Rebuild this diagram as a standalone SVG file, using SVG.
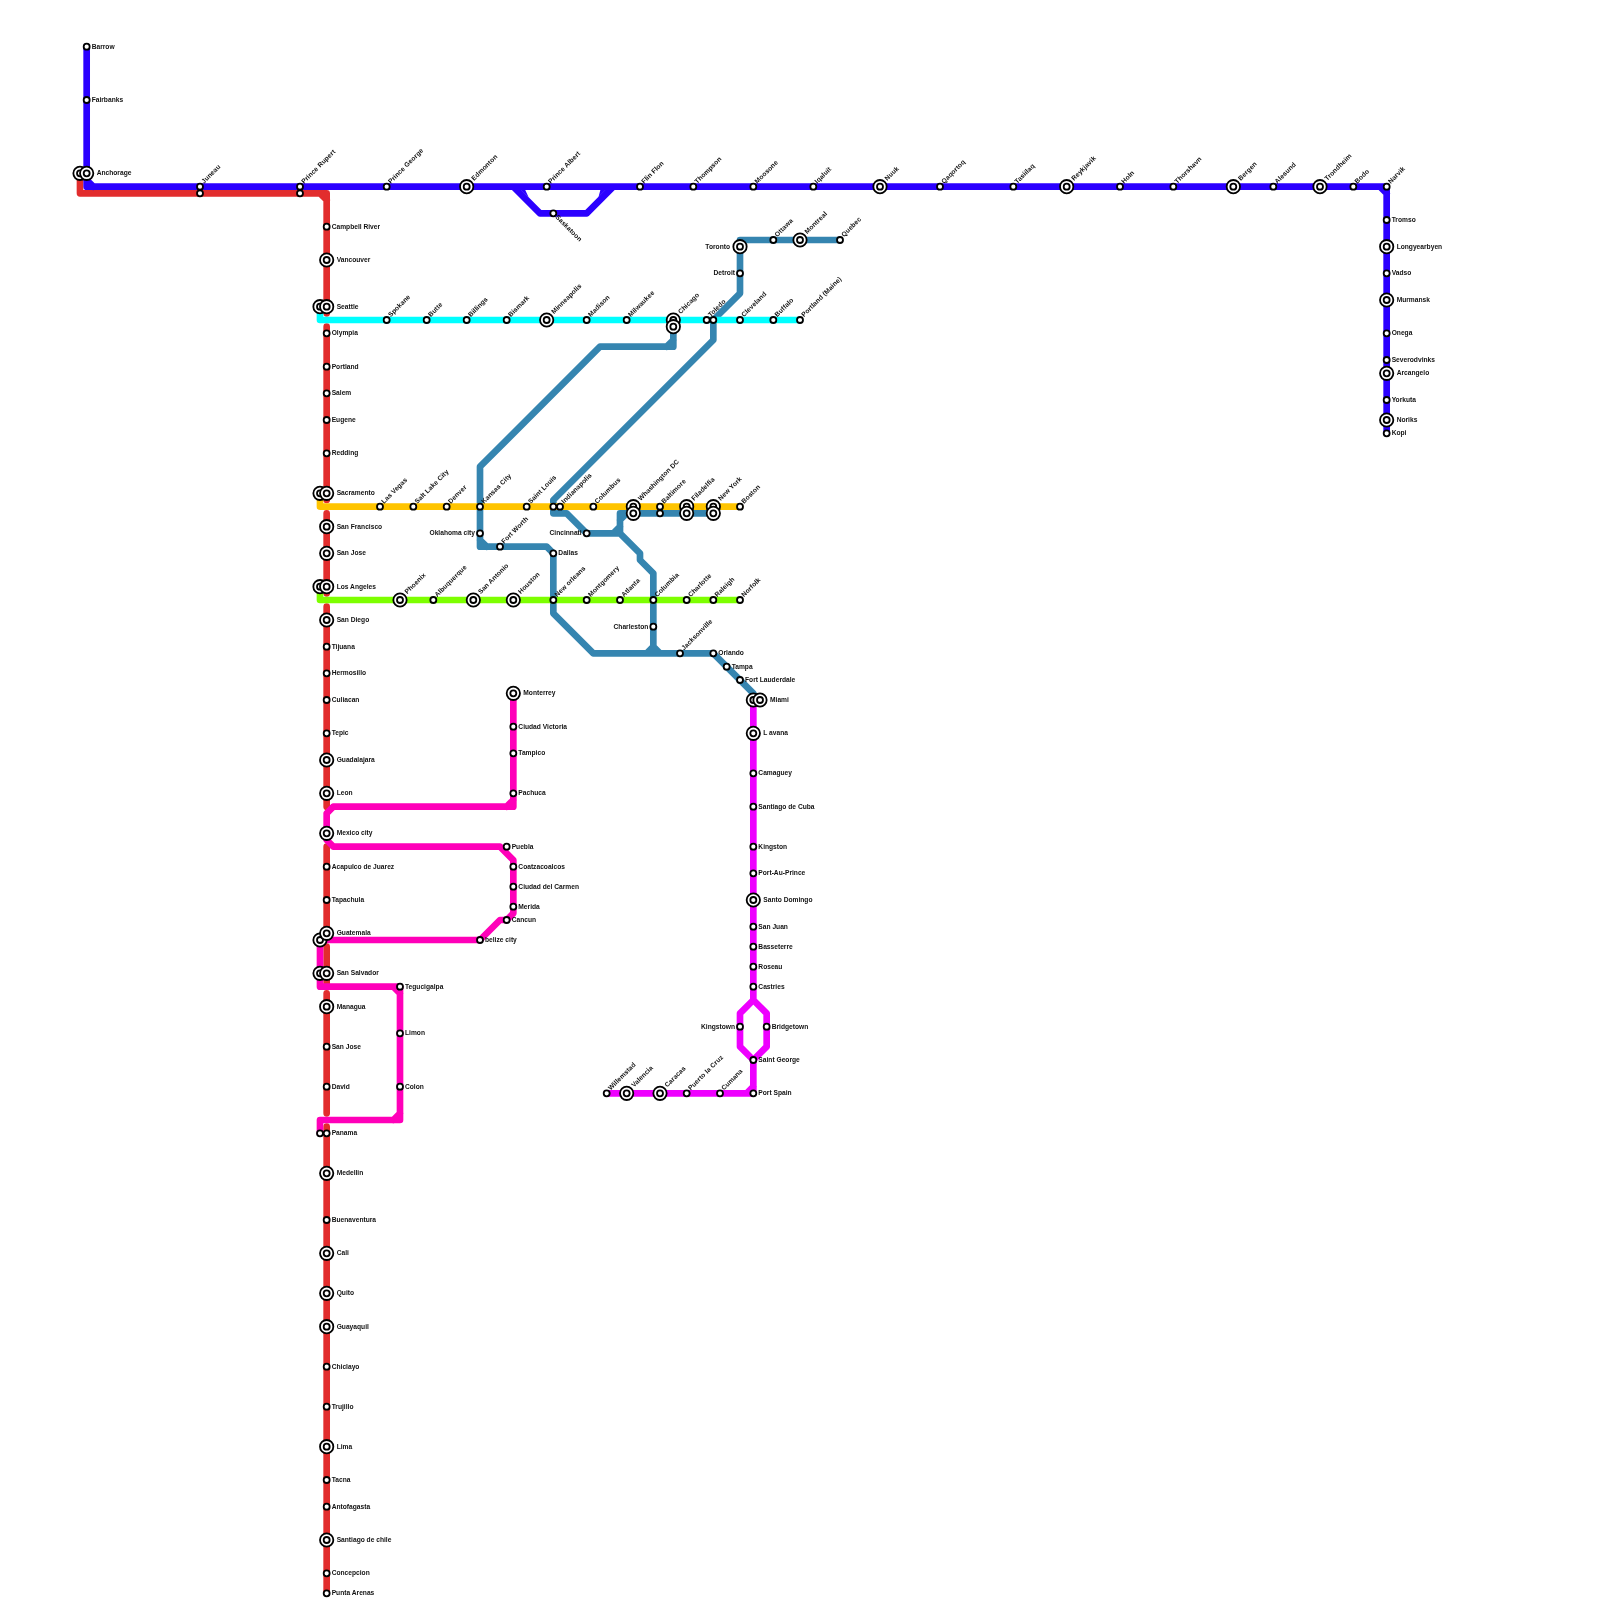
<svg xmlns="http://www.w3.org/2000/svg" width="1600" height="1600" viewBox="0 0 1600 1600">
<style>
.c{fill:none;stroke-width:6.67;stroke-linejoin:round;stroke-linecap:round}
.red{stroke:#e22d2d}.blue{stroke:#2b00ff}.steel{stroke:#3585b0}.cyan{stroke:#00ffff}.orange{stroke:#ffc400}.green{stroke:#7dff00}.pink{stroke:#ff00b9}.mag{stroke:#ee00ff}
.bf{fill:#2b00ff}
text{font-family:"Liberation Sans",Arial,sans-serif;font-weight:700;font-size:6.67px;fill:#111}
text[transform]{letter-spacing:.1px}
.e{text-anchor:end}
.o{fill:#fff;stroke:#000;stroke-width:1.8}
#nodes{opacity:.999}
</style>
<defs>
<circle id="s" class="o" r="3"/>
<g id="i"><circle class="o" r="6.67"/><circle class="o" r="3"/></g>
</defs>
<rect width="1600" height="1600" fill="#fff"/>
<g id="connectors">
<path class="c red" d="M80 173.33V193.33H326.67V313.33M320 193.33L326.67 200M326.67 326.67V500M326.67 513.33V593.33M326.67 606.67V806.67M326.67 846.67V936.67M326.67 946.67V983.33M326.67 993.33V1113.33M326.67 1126.67V1593.33"/>
<path class="c blue" d="M86.67 46.67V186.67H1386.67V433.33M86.67 180L93.33 186.67M1380 186.67L1386.67 193.33M513.33 186.67L540 213.33H586.67L613.33 186.67"/>
<path class="bf" d="M520.5 189.5H525L528.5 197ZM606 189.5H600.5L598.5 197Z"/>
<path class="c steel" d="M840 240H740V293.33L713.33 320V340L553.33 500V513.33H566.67L586.67 533.33H620L640 553.33V560L653.33 573.33V653.33M620 533.33V513.33H713.33M613.33 533.33L620 526.67M620 520L626.67 513.33M673.33 326.67V346.67H600L480 466.67V546.67H546.67L553.33 553.33V613.33L593.33 653.33H713.33L753.33 693.33M666.67 346.67L673.33 340M480 540L486.67 546.67M646.67 653.33L653.33 646.67L660 653.33"/>
<path class="c cyan" d="M320 306.67V320H800"/>
<path class="c orange" d="M320 493.33V506.67H740"/>
<path class="c green" d="M320 586.67V600H740"/>
<path class="c pink" d="M513.33 693.33V806.67H333.33L326.67 813.33V840L333.33 846.67H500L513.33 860V913.33L506.67 920H500L480 940H320V986.67H400V1120H320V1133.33M506.67 806.67L513.33 800M400 993.33L393.33 986.67M400 1113.33L393.33 1120"/>
<path class="c mag" d="M753.33 700V1000L740 1013.33V1046.67L753.33 1060L766.67 1046.67V1013.33L753.33 1000M753.33 1060V1093.33H606.67M746.67 1093.33L753.33 1086.67"/>
</g>
<g id="nodes">
<g id="n-barrow"><use href="#s" x="86.67" y="46.67"/><text x="91.67" y="48.67">Barrow</text></g>
<g id="n-fairbanks"><use href="#s" x="86.67" y="100"/><text x="91.67" y="102">Fairbanks</text></g>
<g id="n-anchorage"><use href="#i" x="80" y="173.33"/><use href="#i" x="86.67" y="173.33"/><text x="96.67" y="175.33">Anchorage</text></g>
<g id="n-juneau"><use href="#s" x="200" y="193.33"/><use href="#s" x="200" y="186.67"/><text transform="translate(204 184) rotate(-45)">Juneau</text></g>
<g id="n-prince-rupert"><use href="#s" x="300" y="193.33"/><use href="#s" x="300" y="186.67"/><text transform="translate(304 184) rotate(-45)">Prince Rupert</text></g>
<g id="n-prince-george"><use href="#s" x="386.67" y="186.67"/><text transform="translate(390.67 184) rotate(-45)">Prince George</text></g>
<g id="n-edmonton"><use href="#i" x="466.67" y="186.67"/><text transform="translate(474 181) rotate(-45)">Edmonton</text></g>
<g id="n-prince-albert"><use href="#s" x="546.67" y="186.67"/><text transform="translate(550.67 184) rotate(-45)">Prince Albert</text></g>
<g id="n-saskatoon"><use href="#s" x="553.33" y="213.33"/><text transform="translate(555 217.5) rotate(45)">Saskatoon</text></g>
<g id="n-flin-flon"><use href="#s" x="640" y="186.67"/><text transform="translate(644 184) rotate(-45)">Flin Flon</text></g>
<g id="n-thompson"><use href="#s" x="693.33" y="186.67"/><text transform="translate(697.33 184) rotate(-45)">Thompson</text></g>
<g id="n-moosone"><use href="#s" x="753.33" y="186.67"/><text transform="translate(757.33 184) rotate(-45)">Moosone</text></g>
<g id="n-iqaluit"><use href="#s" x="813.33" y="186.67"/><text transform="translate(817.33 184) rotate(-45)">Iqaluit</text></g>
<g id="n-nuuk"><use href="#i" x="880" y="186.67"/><text transform="translate(887.33 181) rotate(-45)">Nuuk</text></g>
<g id="n-qaqortoq"><use href="#s" x="940" y="186.67"/><text transform="translate(944 184) rotate(-45)">Qaqortoq</text></g>
<g id="n-tasiilaq"><use href="#s" x="1013.33" y="186.67"/><text transform="translate(1017.33 184) rotate(-45)">Tasiilaq</text></g>
<g id="n-reykjavik"><use href="#i" x="1066.67" y="186.67"/><text transform="translate(1074 181) rotate(-45)">Reykjavik</text></g>
<g id="n-holn"><use href="#s" x="1120" y="186.67"/><text transform="translate(1124 184) rotate(-45)">Holn</text></g>
<g id="n-thorshavn"><use href="#s" x="1173.33" y="186.67"/><text transform="translate(1177.33 184) rotate(-45)">Thorshavn</text></g>
<g id="n-bergen"><use href="#i" x="1233.33" y="186.67"/><text transform="translate(1240.67 181) rotate(-45)">Bergen</text></g>
<g id="n-alesund"><use href="#s" x="1273.33" y="186.67"/><text transform="translate(1277.33 184) rotate(-45)">Alesund</text></g>
<g id="n-trondheim"><use href="#i" x="1320" y="186.67"/><text transform="translate(1327.33 181) rotate(-45)">Trondheim</text></g>
<g id="n-bodo"><use href="#s" x="1353.33" y="186.67"/><text transform="translate(1357.33 184) rotate(-45)">Bodo</text></g>
<g id="n-narvik"><use href="#s" x="1386.67" y="186.67"/><text transform="translate(1390.67 184) rotate(-45)">Narvik</text></g>
<g id="n-tromso"><use href="#s" x="1386.67" y="220"/><text x="1391.67" y="222">Tromso</text></g>
<g id="n-longyearbyen"><use href="#i" x="1386.67" y="246.67"/><text x="1396.67" y="248.67">Longyearbyen</text></g>
<g id="n-vadso"><use href="#s" x="1386.67" y="273.33"/><text x="1391.67" y="275.33">Vadso</text></g>
<g id="n-murmansk"><use href="#i" x="1386.67" y="300"/><text x="1396.67" y="302">Murmansk</text></g>
<g id="n-onega"><use href="#s" x="1386.67" y="333.33"/><text x="1391.67" y="335.33">Onega</text></g>
<g id="n-severodvinks"><use href="#s" x="1386.67" y="360"/><text x="1391.67" y="362">Severodvinks</text></g>
<g id="n-arcangelo"><use href="#i" x="1386.67" y="373.33"/><text x="1396.67" y="375.33">Arcangelo</text></g>
<g id="n-yorkuta"><use href="#s" x="1386.67" y="400"/><text x="1391.67" y="402">Yorkuta</text></g>
<g id="n-noriks"><use href="#i" x="1386.67" y="420"/><text x="1396.67" y="422">Noriks</text></g>
<g id="n-kopi"><use href="#s" x="1386.67" y="433.33"/><text x="1391.67" y="435.33">Kopi</text></g>

<g id="n-campbell-river"><use href="#s" x="326.67" y="226.67"/><text x="331.67" y="228.67">Campbell River</text></g>
<g id="n-vancouver"><use href="#i" x="326.67" y="260"/><text x="336.67" y="262">Vancouver</text></g>
<g id="n-seattle"><use href="#i" x="320" y="306.67"/><use href="#i" x="326.67" y="306.67"/><text x="336.67" y="308.67">Seattle</text></g>
<g id="n-olympia"><use href="#s" x="326.67" y="333.33"/><text x="331.67" y="335.33">Olympia</text></g>
<g id="n-portland"><use href="#s" x="326.67" y="366.67"/><text x="331.67" y="368.67">Portland</text></g>
<g id="n-salem"><use href="#s" x="326.67" y="393.33"/><text x="331.67" y="395.33">Salem</text></g>
<g id="n-eugene"><use href="#s" x="326.67" y="420"/><text x="331.67" y="422">Eugene</text></g>
<g id="n-redding"><use href="#s" x="326.67" y="453.33"/><text x="331.67" y="455.33">Redding</text></g>
<g id="n-sacramento"><use href="#i" x="320" y="493.33"/><use href="#i" x="326.67" y="493.33"/><text x="336.67" y="495.33">Sacramento</text></g>
<g id="n-san-francisco"><use href="#i" x="326.67" y="526.67"/><text x="336.67" y="528.67">San Francisco</text></g>
<g id="n-san-jose-1"><use href="#i" x="326.67" y="553.33"/><text x="336.67" y="555.33">San Jose</text></g>
<g id="n-los-angeles"><use href="#i" x="320" y="586.67"/><use href="#i" x="326.67" y="586.67"/><text x="336.67" y="588.67">Los Angeles</text></g>
<g id="n-san-diego"><use href="#i" x="326.67" y="620"/><text x="336.67" y="622">San Diego</text></g>
<g id="n-tijuana"><use href="#s" x="326.67" y="646.67"/><text x="331.67" y="648.67">Tijuana</text></g>
<g id="n-hermosillo"><use href="#s" x="326.67" y="673.33"/><text x="331.67" y="675.33">Hermosillo</text></g>
<g id="n-culiacan"><use href="#s" x="326.67" y="700"/><text x="331.67" y="702">Culiacan</text></g>
<g id="n-tepic"><use href="#s" x="326.67" y="733.33"/><text x="331.67" y="735.33">Tepic</text></g>
<g id="n-guadalajara"><use href="#i" x="326.67" y="760"/><text x="336.67" y="762">Guadalajara</text></g>
<g id="n-leon"><use href="#i" x="326.67" y="793.33"/><text x="336.67" y="795.33">Leon</text></g>
<g id="n-mexico-city"><use href="#i" x="326.67" y="833.33"/><text x="336.67" y="835.33">Mexico city</text></g>
<g id="n-acapulco"><use href="#s" x="326.67" y="866.67"/><text x="331.67" y="868.67">Acapulco de Juarez</text></g>
<g id="n-tapachula"><use href="#s" x="326.67" y="900"/><text x="331.67" y="902">Tapachula</text></g>
<g id="n-guatemala"><use href="#i" x="320" y="940"/><use href="#i" x="326.67" y="933.33"/><text x="336.67" y="935.33">Guatemala</text></g>
<g id="n-san-salvador"><use href="#i" x="320" y="973.33"/><use href="#i" x="326.67" y="973.33"/><text x="336.67" y="975.33">San Salvador</text></g>
<g id="n-managua"><use href="#i" x="326.67" y="1006.67"/><text x="336.67" y="1008.67">Managua</text></g>
<g id="n-san-jose-2"><use href="#s" x="326.67" y="1046.67"/><text x="331.67" y="1048.67">San Jose</text></g>
<g id="n-david"><use href="#s" x="326.67" y="1086.67"/><text x="331.67" y="1088.67">David</text></g>
<g id="n-panama"><use href="#s" x="320" y="1133.33"/><use href="#s" x="326.67" y="1133.33"/><text x="331.67" y="1135.33">Panama</text></g>
<g id="n-medellin"><use href="#i" x="326.67" y="1173.33"/><text x="336.67" y="1175.33">Medellin</text></g>
<g id="n-buenaventura"><use href="#s" x="326.67" y="1220"/><text x="331.67" y="1222">Buenaventura</text></g>
<g id="n-cali"><use href="#i" x="326.67" y="1253.33"/><text x="336.67" y="1255.33">Cali</text></g>
<g id="n-quito"><use href="#i" x="326.67" y="1293.33"/><text x="336.67" y="1295.33">Quito</text></g>
<g id="n-guayaquil"><use href="#i" x="326.67" y="1326.67"/><text x="336.67" y="1328.67">Guayaquil</text></g>
<g id="n-chiclayo"><use href="#s" x="326.67" y="1366.67"/><text x="331.67" y="1368.67">Chiclayo</text></g>
<g id="n-trujillo"><use href="#s" x="326.67" y="1406.67"/><text x="331.67" y="1408.67">Trujillo</text></g>
<g id="n-lima"><use href="#i" x="326.67" y="1446.67"/><text x="336.67" y="1448.67">Lima</text></g>
<g id="n-tacna"><use href="#s" x="326.67" y="1480"/><text x="331.67" y="1482">Tacna</text></g>
<g id="n-antofagasta"><use href="#s" x="326.67" y="1506.67"/><text x="331.67" y="1508.67">Antofagasta</text></g>
<g id="n-santiago"><use href="#i" x="326.67" y="1540"/><text x="336.67" y="1542">Santiago de chile</text></g>
<g id="n-concepcion"><use href="#s" x="326.67" y="1573.33"/><text x="331.67" y="1575.33">Concepcion</text></g>
<g id="n-punta-arenas"><use href="#s" x="326.67" y="1593.33"/><text x="331.67" y="1595.33">Punta Arenas</text></g>

<g id="n-spokane"><use href="#s" x="386.67" y="320"/><text transform="translate(390.67 317.3) rotate(-45)">Spokane</text></g>
<g id="n-butte"><use href="#s" x="426.67" y="320"/><text transform="translate(430.67 317.3) rotate(-45)">Butte</text></g>
<g id="n-billings"><use href="#s" x="466.67" y="320"/><text transform="translate(470.67 317.3) rotate(-45)">Billings</text></g>
<g id="n-bismark"><use href="#s" x="506.67" y="320"/><text transform="translate(510.67 317.3) rotate(-45)">Bismark</text></g>
<g id="n-minneapolis"><use href="#i" x="546.67" y="320"/><text transform="translate(554 314.3) rotate(-45)">Minneapolis</text></g>
<g id="n-madison"><use href="#s" x="586.67" y="320"/><text transform="translate(590.67 317.3) rotate(-45)">Madison</text></g>
<g id="n-milwaukee"><use href="#s" x="626.67" y="320"/><text transform="translate(630.67 317.3) rotate(-45)">Milwaukee</text></g>
<g id="n-chicago"><use href="#i" x="673.33" y="320"/><use href="#i" x="673.33" y="326.67"/><text transform="translate(680.67 314.3) rotate(-45)">Chicago</text></g>
<g id="n-toledo"><use href="#s" x="706.67" y="320"/><use href="#s" x="713.33" y="320"/><text transform="translate(710.67 317.3) rotate(-45)">Toledo</text></g>
<g id="n-cleveland"><use href="#s" x="740" y="320"/><text transform="translate(744 317.3) rotate(-45)">Cleveland</text></g>
<g id="n-buffalo"><use href="#s" x="773.33" y="320"/><text transform="translate(777.33 317.3) rotate(-45)">Buffalo</text></g>
<g id="n-portland-maine"><use href="#s" x="800" y="320"/><text transform="translate(804 317.3) rotate(-45)">Portland (Maine)</text></g>
<g id="n-toronto"><use href="#i" x="740" y="246.67"/><text class="e" x="730" y="248.67">Toronto</text></g>
<g id="n-detroit"><use href="#s" x="740" y="273.33"/><text class="e" x="735" y="275.33">Detroit</text></g>
<g id="n-ottawa"><use href="#s" x="773.33" y="240"/><text transform="translate(777.33 237.3) rotate(-45)">Ottawa</text></g>
<g id="n-montreal"><use href="#i" x="800" y="240"/><text transform="translate(807.33 234.3) rotate(-45)">Montreal</text></g>
<g id="n-quebec"><use href="#s" x="840" y="240"/><text transform="translate(844 237.3) rotate(-45)">Quebec</text></g>

<g id="n-las-vegas"><use href="#s" x="380" y="506.67"/><text transform="translate(384 504) rotate(-45)">Las Vegas</text></g>
<g id="n-salt-lake"><use href="#s" x="413.33" y="506.67"/><text transform="translate(417.33 504) rotate(-45)">Salt Lake City</text></g>
<g id="n-denver"><use href="#s" x="446.67" y="506.67"/><text transform="translate(450.67 504) rotate(-45)">Denver</text></g>
<g id="n-kansas-city"><use href="#s" x="480" y="506.67"/><text transform="translate(484 504) rotate(-45)">Kansas City</text></g>
<g id="n-saint-louis"><use href="#s" x="526.67" y="506.67"/><text transform="translate(530.67 504) rotate(-45)">Saint Louis</text></g>
<g id="n-indianapolis"><use href="#s" x="553.33" y="506.67"/><use href="#s" x="560" y="506.67"/><text transform="translate(564 504) rotate(-45)">Indianapolis</text></g>
<g id="n-columbus"><use href="#s" x="593.33" y="506.67"/><text transform="translate(597.33 504) rotate(-45)">Columbus</text></g>
<g id="n-washington"><use href="#i" x="633.33" y="506.67"/><use href="#i" x="633.33" y="513.33"/><text transform="translate(640.67 501) rotate(-45)">Whashington DC</text></g>
<g id="n-baltimore"><use href="#s" x="660" y="506.67"/><use href="#s" x="660" y="513.33"/><text transform="translate(664 504) rotate(-45)">Baltimore</text></g>
<g id="n-filadelfia"><use href="#i" x="686.67" y="506.67"/><use href="#i" x="686.67" y="513.33"/><text transform="translate(694 501) rotate(-45)">Filadelfia</text></g>
<g id="n-new-york"><use href="#i" x="713.33" y="506.67"/><use href="#i" x="713.33" y="513.33"/><text transform="translate(720.67 501) rotate(-45)">New York</text></g>
<g id="n-boston"><use href="#s" x="740" y="506.67"/><text transform="translate(744 504) rotate(-45)">Boston</text></g>
<g id="n-oklahoma"><use href="#s" x="480" y="533.33"/><text class="e" x="475" y="535.33">Oklahoma city</text></g>
<g id="n-fort-worth"><use href="#s" x="500" y="546.67"/><text transform="translate(504 544) rotate(-45)">Fort Worth</text></g>
<g id="n-dallas"><use href="#s" x="553.33" y="553.33"/><text x="558.33" y="555.33">Dallas</text></g>
<g id="n-cincinnati"><use href="#s" x="586.67" y="533.33"/><text class="e" x="581.7" y="535.33">Cincinnati</text></g>

<g id="n-phoenix"><use href="#i" x="400" y="600"/><text transform="translate(407.33 594.3) rotate(-45)">Phoenix</text></g>
<g id="n-albuquerque"><use href="#s" x="433.33" y="600"/><text transform="translate(437.33 597.3) rotate(-45)">Albuquerque</text></g>
<g id="n-san-antonio"><use href="#i" x="473.33" y="600"/><text transform="translate(480.67 594.3) rotate(-45)">San Antonio</text></g>
<g id="n-houston"><use href="#i" x="513.33" y="600"/><text transform="translate(520.67 594.3) rotate(-45)">Houston</text></g>
<g id="n-new-orleans"><use href="#s" x="553.33" y="600"/><text transform="translate(557.33 597.3) rotate(-45)">New orleans</text></g>
<g id="n-montgomery"><use href="#s" x="586.67" y="600"/><text transform="translate(590.67 597.3) rotate(-45)">Montgomery</text></g>
<g id="n-atlanta"><use href="#s" x="620" y="600"/><text transform="translate(624 597.3) rotate(-45)">Atlanta</text></g>
<g id="n-columbia"><use href="#s" x="653.33" y="600"/><text transform="translate(657.33 597.3) rotate(-45)">Columbia</text></g>
<g id="n-charlotte"><use href="#s" x="686.67" y="600"/><text transform="translate(690.67 597.3) rotate(-45)">Charlotte</text></g>
<g id="n-raleigh"><use href="#s" x="713.33" y="600"/><text transform="translate(717.33 597.3) rotate(-45)">Raleigh</text></g>
<g id="n-norfolk"><use href="#s" x="740" y="600"/><text transform="translate(744 597.3) rotate(-45)">Norfolk</text></g>
<g id="n-charleston"><use href="#s" x="653.33" y="626.67"/><text class="e" x="648.3" y="628.67">Charleston</text></g>
<g id="n-jacksonville"><use href="#s" x="680" y="653.33"/><text transform="translate(684 650.6) rotate(-45)">Jacksonville</text></g>
<g id="n-orlando"><use href="#s" x="713.33" y="653.33"/><text x="718.33" y="655.33">Orlando</text></g>
<g id="n-tampa"><use href="#s" x="726.67" y="666.67"/><text x="731.67" y="668.67">Tampa</text></g>
<g id="n-fort-lauderdale"><use href="#s" x="740" y="680"/><text x="745" y="682">Fort Lauderdale</text></g>
<g id="n-miami"><use href="#i" x="753.33" y="700"/><use href="#i" x="760" y="700"/><text x="770" y="702">Miami</text></g>

<g id="n-monterrey"><use href="#i" x="513.33" y="693.33"/><text x="523.33" y="695.33">Monterrey</text></g>
<g id="n-ciudad-victoria"><use href="#s" x="513.33" y="726.67"/><text x="518.33" y="728.67">Ciudad Victoria</text></g>
<g id="n-tampico"><use href="#s" x="513.33" y="753.33"/><text x="518.33" y="755.33">Tampico</text></g>
<g id="n-pachuca"><use href="#s" x="513.33" y="793.33"/><text x="518.33" y="795.33">Pachuca</text></g>
<g id="n-puebla"><use href="#s" x="506.67" y="846.67"/><text x="511.67" y="848.67">Puebla</text></g>
<g id="n-coatzacoalcos"><use href="#s" x="513.33" y="866.67"/><text x="518.33" y="868.67">Coatzacoalcos</text></g>
<g id="n-ciudad-carmen"><use href="#s" x="513.33" y="886.67"/><text x="518.33" y="888.67">Ciudad del Carmen</text></g>
<g id="n-merida"><use href="#s" x="513.33" y="906.67"/><text x="518.33" y="908.67">Merida</text></g>
<g id="n-cancun"><use href="#s" x="506.67" y="920"/><text x="511.67" y="922">Cancun</text></g>
<g id="n-belize"><use href="#s" x="480" y="940"/><text x="485" y="942">belize city</text></g>
<g id="n-tegucigalpa"><use href="#s" x="400" y="986.67"/><text x="405" y="988.67">Tegucigalpa</text></g>
<g id="n-limon"><use href="#s" x="400" y="1033.33"/><text x="405" y="1035.33">Limon</text></g>
<g id="n-colon"><use href="#s" x="400" y="1086.67"/><text x="405" y="1088.67">Colon</text></g>

<g id="n-l-avana"><use href="#i" x="753.33" y="733.33"/><text x="763.33" y="735.33">L avana</text></g>
<g id="n-camaguey"><use href="#s" x="753.33" y="773.33"/><text x="758.33" y="775.33">Camaguey</text></g>
<g id="n-santiago-cuba"><use href="#s" x="753.33" y="806.67"/><text x="758.33" y="808.67">Santiago de Cuba</text></g>
<g id="n-kingston"><use href="#s" x="753.33" y="846.67"/><text x="758.33" y="848.67">Kingston</text></g>
<g id="n-port-au-prince"><use href="#s" x="753.33" y="873.33"/><text x="758.33" y="875.33">Port-Au-Prince</text></g>
<g id="n-santo-domingo"><use href="#i" x="753.33" y="900"/><text x="763.33" y="902">Santo Domingo</text></g>
<g id="n-san-juan"><use href="#s" x="753.33" y="926.67"/><text x="758.33" y="928.67">San Juan</text></g>
<g id="n-basseterre"><use href="#s" x="753.33" y="946.67"/><text x="758.33" y="948.67">Basseterre</text></g>
<g id="n-roseau"><use href="#s" x="753.33" y="966.67"/><text x="758.33" y="968.67">Roseau</text></g>
<g id="n-castries"><use href="#s" x="753.33" y="986.67"/><text x="758.33" y="988.67">Castries</text></g>
<g id="n-kingstown"><use href="#s" x="740" y="1026.67"/><text class="e" x="735" y="1028.67">Kingstown</text></g>
<g id="n-bridgetown"><use href="#s" x="766.67" y="1026.67"/><text x="771.67" y="1028.67">Bridgetown</text></g>
<g id="n-saint-george"><use href="#s" x="753.33" y="1060"/><text x="758.33" y="1062">Saint George</text></g>
<g id="n-port-spain"><use href="#s" x="753.33" y="1093.33"/><text x="758.33" y="1095.33">Port Spain</text></g>
<g id="n-cumana"><use href="#s" x="720" y="1093.33"/><text transform="translate(724 1090.6) rotate(-45)">Cumana</text></g>
<g id="n-puerto-la-cruz"><use href="#s" x="686.67" y="1093.33"/><text transform="translate(690.67 1090.6) rotate(-45)">Puerto la Cruz</text></g>
<g id="n-caracas"><use href="#i" x="660" y="1093.33"/><text transform="translate(667.33 1087.6) rotate(-45)">Caracas</text></g>
<g id="n-valencia"><use href="#i" x="626.67" y="1093.33"/><text transform="translate(634 1087.6) rotate(-45)">Valencia</text></g>
<g id="n-willemstad"><use href="#s" x="606.67" y="1093.33"/><text transform="translate(610.67 1090.6) rotate(-45)">Willemstad</text></g>
</g>
</svg>
